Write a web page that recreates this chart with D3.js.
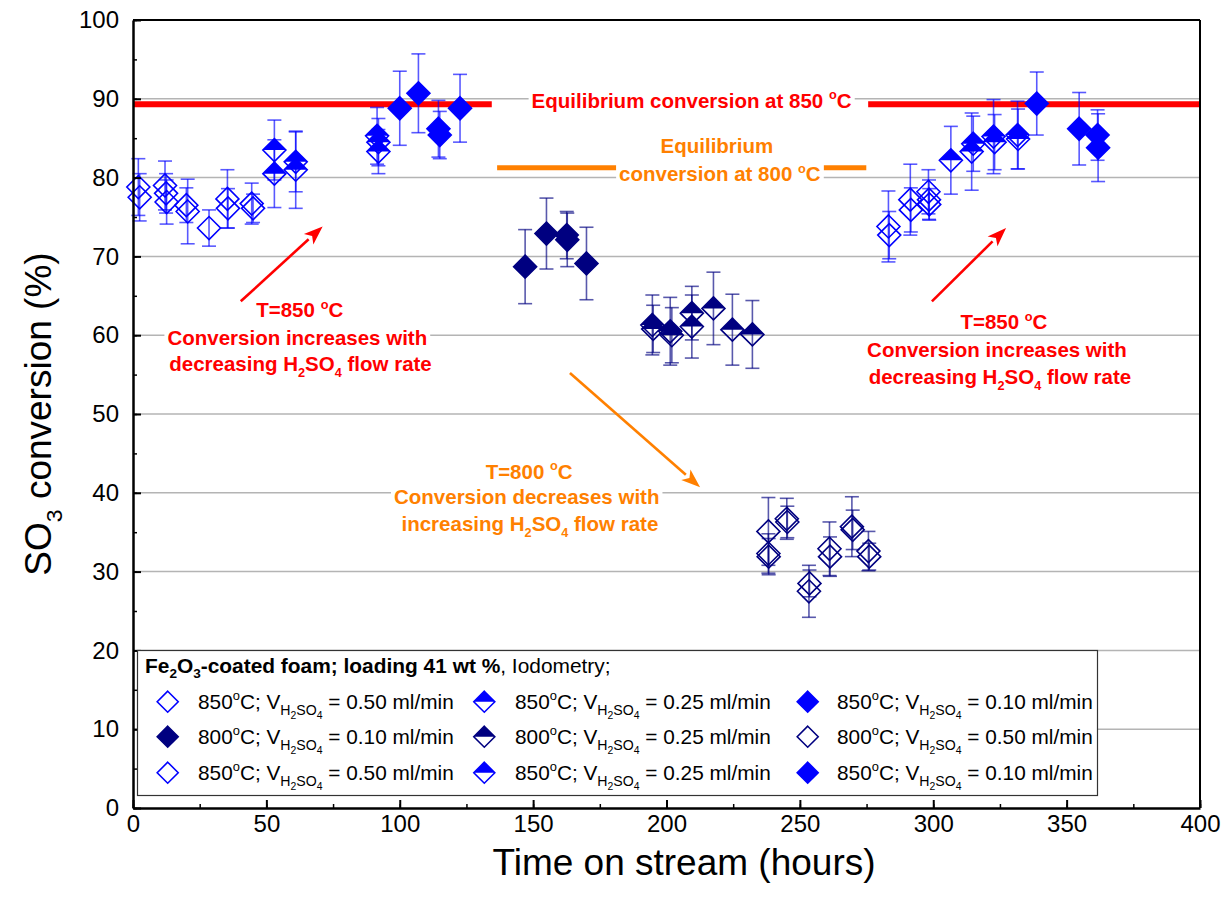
<!DOCTYPE html>
<html>
<head>
<meta charset="utf-8">
<script src="https://cdn.jsdelivr.net/npm/d3@7"></script>
<style>
  body { margin: 0; background: #fff; }
  svg { display: block; font-family: "Liberation Sans", Arial, sans-serif; }
</style>
</head>
<body>
<svg id="chart" width="1230" height="912"></svg>
<script>
// each point: [time on stream (h), SO3 conversion (%), error (%)]
const s850_050_a = [
  [2, 78.8, 3.6], [2.5, 77.5, 3.0], [12, 79.0, 3.1], [12.4, 78.0, 2.5], [12.6, 76.9, 2.8],
  [20, 76.5, 2.2], [20.5, 75.7, 4.1], [28.5, 73.6, 2.3], [35.4, 77.3, 3.7], [35.6, 76.1, 2.5],
  [44.5, 76.7, 2.6], [45, 76.1, 1.8]
];
const s850_025_a = [
  [53, 83.5, 3.8], [53, 80.5, 4.3], [61, 82.0, 3.8], [61, 81.0, 4.9],
  [91.5, 85.3, 3.6], [92, 84.5, 3.0], [92, 83.3, 2.8]
];
const s850_010_a = [
  [100, 88.8, 4.7], [107, 90.7, 5.0], [114.5, 86.2, 3.6], [115, 85.4, 3.0], [122.6, 88.8, 4.3]
];
const s800_010 = [
  [147, 68.7, 4.7], [155, 72.9, 4.5], [162.6, 72.7, 3.0], [162.8, 72.1, 3.4], [170, 69.1, 4.6]
];
const s800_025 = [
  [194.7, 61.3, 3.8], [195, 60.8, 3.0], [201.4, 60.5, 4.3], [202, 60.0, 3.5], [209.5, 62.8, 3.4],
  [209.5, 61.1, 4.0], [217.6, 63.4, 4.6], [224.7, 60.7, 4.5], [232.2, 60.1, 4.3]
];
const s800_050 = [
  [238.2, 35.1, 4.3], [238.2, 32.3, 2.5], [238.3, 31.9, 2.3], [245.1, 36.7, 2.6], [245.3, 36.3, 2.0],
  [253.6, 28.5, 1.7], [253.4, 27.5, 3.3], [261.1, 32.9, 3.4], [261.3, 31.9, 2.5], [269.5, 35.7, 3.8],
  [269.8, 35.3, 2.5], [275.7, 32.6, 2.5], [276, 31.9, 1.7]
];
const s850_050_b = [
  [283.2, 73.8, 4.5], [283.5, 72.7, 3.0], [291.4, 77.2, 4.5], [291.6, 75.9, 2.8],
  [298.2, 78.2, 2.8], [298.4, 77.2, 2.5], [298.5, 76.6, 2.0]
];
const s850_025_b = [
  [306.6, 82.2, 4.3], [314.4, 83.3, 4.9], [315, 84.3, 3.5], [322.6, 85.2, 4.7], [323, 84.5, 3.5],
  [331.6, 85.4, 4.3], [331.8, 84.9, 3.8]
];
const s850_010_b = [
  [338.8, 89.4, 4.0], [354.7, 86.2, 4.6], [361.6, 85.4, 3.2], [361.8, 83.8, 4.3]
];

// equilibrium conversion segments: [t start, t end, value]
const eq850 = [[0, 134.5, 89.3], [275.6, 400, 89.3]];
const eq800 = [[136.5, 181.3, 81.25], [258.8, 274.9, 81.25]];

// arrows in data units: [t0, y0, t1, y1]
const arrowsRed = [[40.4, 64.3, 71.1, 73.8], [299.5, 64.3, 327.3, 73.6]];
const arrowsOrange = [[163.8, 55.2, 212.6, 40.7]];

const xTicks = [0, 50, 100, 150, 200, 250, 300, 350, 400];
const yTicks = [0, 10, 20, 30, 40, 50, 60, 70, 80, 90, 100];

const BLUE = "#0000ff", NAVY = "#000080", RED = "#ff0000", ORANGE = "#ff8000";

const series = [
  { data: s850_050_a, color: BLUE, fill: "open" },
  { data: s850_025_a, color: BLUE, fill: "half" },
  { data: s850_010_a, color: BLUE, fill: "full" },
  { data: s800_010, color: NAVY, fill: "full" },
  { data: s800_025, color: NAVY, fill: "half" },
  { data: s800_050, color: NAVY, fill: "open" },
  { data: s850_050_b, color: BLUE, fill: "open" },
  { data: s850_025_b, color: BLUE, fill: "half" },
  { data: s850_010_b, color: BLUE, fill: "full" }
];
const legendTemp = ["850", "850", "850", "800", "800", "800", "850", "850", "850"];
const legendFlow = ["0.50", "0.25", "0.10", "0.10", "0.25", "0.50", "0.50", "0.25", "0.10"];

const svg = d3.select("#chart");
const width = 1230, height = 912;
const margin = { top: 20, right: 30, bottom: 104, left: 133 };

const x = d3.scaleLinear().domain([0, 400]).range([margin.left, width - margin.right]);
const y = d3.scaleLinear().domain([0, 100]).range([height - margin.bottom, margin.top]);

// text with sub/superscripts; level 0 normal, 1 sub, 2 sub-sub, -1 super
function rich(sel, parts, size, subScale = 0.62) {
  const off = { "0": 0, "1": 0.3, "2": 0.5, "-1": -0.42 };
  const sz = { "0": 1, "1": subScale, "2": 0.5, "-1": 0.62 };
  let cur = 0;
  parts.forEach(([s, lv]) => {
    sel.append("tspan")
      .attr("dy", (off[lv] - off[cur]) * size)
      .attr("font-size", size * sz[lv])
      .text(s);
    cur = lv;
  });
  return sel;
}

function diamond(cx, cy, r) {
  return `M${cx},${cy - r}L${cx + r},${cy}L${cx},${cy + r}L${cx - r},${cy}Z`;
}
function topHalf(cx, cy, r) {
  return `M${cx},${cy - r}L${cx + r},${cy}L${cx - r},${cy}Z`;
}

function drawMarker(g, cx, cy, fill, color, r) {
  if (fill === "half") {
    g.append("path").attr("d", topHalf(cx, cy, r)).attr("fill", color);
  }
  g.append("path")
    .attr("d", diamond(cx, cy, r))
    .attr("fill", fill === "full" ? color : "none")
    .attr("stroke", color)
    .attr("stroke-width", 1.6);
}

// gridlines
svg.append("g")
  .selectAll("line")
  .data(yTicks.filter(v => v > 0 && v < 100))
  .enter().append("line")
  .attr("x1", x(0)).attr("x2", x(400))
  .attr("y1", d => y(d)).attr("y2", d => y(d))
  .attr("stroke", "#b4b4b4").attr("stroke-width", 1.5);

// equilibrium lines
svg.append("g").selectAll("line").data(eq850).enter().append("line")
  .attr("x1", d => x(d[0])).attr("x2", d => x(d[1]))
  .attr("y1", d => y(d[2])).attr("y2", d => y(d[2]))
  .attr("stroke", RED).attr("stroke-width", 6);
svg.append("g").selectAll("line").data(eq800).enter().append("line")
  .attr("x1", d => x(d[0])).attr("x2", d => x(d[1]))
  .attr("y1", d => y(d[2])).attr("y2", d => y(d[2]))
  .attr("stroke", ORANGE).attr("stroke-width", 5);

// annotation labels (white background)
const annFont = 20.5;
function label(t, v, parts, color) {
  const g = svg.append("g");
  const txt = g.append("text")
    .attr("x", x(t)).attr("y", y(v) + annFont * 0.36)
    .attr("text-anchor", "middle")
    .attr("font-weight", "bold")
    .attr("font-size", annFont)
    .attr("fill", color);
  rich(txt, parts, annFont);
  const bb = txt.node().getBBox();
  g.insert("rect", "text")
    .attr("x", bb.x - 3).attr("y", bb.y + 1)
    .attr("width", bb.width + 6).attr("height", bb.height - 2)
    .attr("fill", "#fff");
}

label(209.4, 89.76, [["Equilibrium conversion at 850 ", 0], ["o", -1], ["C", 0]], RED);
label(218.9, 84.05, [["Equilibrium", 0]], ORANGE);
label(220.0, 80.46, [["conversion at 800 ", 0], ["o", -1], ["C", 0]], ORANGE);

label(62.5, 63.2, [["T=850 ", 0], ["o", -1], ["C", 0]], RED);
label(61.6, 59.7, [["Conversion increases with", 0]], RED);
label(62.8, 56.4, [["decreasing H", 0], ["2", 1], ["SO", 0], ["4", 1], [" flow rate", 0]], RED);

label(326.5, 61.7, [["T=850 ", 0], ["o", -1], ["C", 0]], RED);
label(323.9, 58.2, [["Conversion increases with", 0]], RED);
label(325.0, 54.8, [["decreasing H", 0], ["2", 1], ["SO", 0], ["4", 1], [" flow rate", 0]], RED);

label(148.5, 42.7, [["T=800 ", 0], ["o", -1], ["C", 0]], ORANGE);
label(147.6, 39.5, [["Conversion decreases with", 0]], ORANGE);
label(148.8, 36.1, [["increasing H", 0], ["2", 1], ["SO", 0], ["4", 1], [" flow rate", 0]], ORANGE);

// arrows
function arrow(d, color) {
  const x0 = x(d[0]), y0 = y(d[1]), x1 = x(d[2]), y1 = y(d[3]);
  const ang = Math.atan2(y1 - y0, x1 - x0);
  const L = 19, W = 7;
  const bx = x1 - L * Math.cos(ang), by = y1 - L * Math.sin(ang);
  svg.append("line")
    .attr("x1", x0).attr("y1", y0).attr("x2", bx).attr("y2", by)
    .attr("stroke", color).attr("stroke-width", 2.6);
  const px = -Math.sin(ang) * W, py = Math.cos(ang) * W;
  svg.append("path")
    .attr("d", `M${x1},${y1}L${bx + px},${by + py}L${x1 - L * 0.75 * Math.cos(ang)},${y1 - L * 0.75 * Math.sin(ang)}L${bx - px},${by - py}Z`)
    .attr("fill", color);
}
arrowsRed.forEach(d => arrow(d, RED));
arrowsOrange.forEach(d => arrow(d, ORANGE));

// error bars and markers
const R = 11.5, CAP = 7;
series.forEach(s => {
  const g = svg.append("g");
  s.data.forEach(([t, v, e]) => {
    const cx = x(t);
    const eb = g.append("g").attr("stroke", s.color).attr("stroke-opacity", 0.65).attr("stroke-width", 1.6);
    eb.append("line").attr("x1", cx).attr("x2", cx).attr("y1", y(v + e)).attr("y2", y(v - e));
    eb.append("line").attr("x1", cx - CAP).attr("x2", cx + CAP).attr("y1", y(v + e)).attr("y2", y(v + e));
    eb.append("line").attr("x1", cx - CAP).attr("x2", cx + CAP).attr("y1", y(v - e)).attr("y2", y(v - e));
  });
  s.data.forEach(([t, v]) => drawMarker(g, x(t), y(v), s.fill, s.color, R));
});

// axes
const tickFont = 24;
const xMinor = d3.range(0, 401, 25);
const yMinor = d3.range(0, 101, 5);

svg.append("g")
  .attr("transform", `translate(0,${y(0)})`)
  .call(d3.axisBottom(x).tickValues(xMinor).tickSize(-4).tickFormat(""))
  .call(g => g.select(".domain").remove())
  .selectAll("line").attr("stroke", "#000").attr("stroke-width", 1.5);
svg.append("g")
  .attr("transform", `translate(${x(0)},0)`)
  .call(d3.axisLeft(y).tickValues(yMinor).tickSize(-4).tickFormat(""))
  .call(g => g.select(".domain").remove())
  .selectAll("line").attr("stroke", "#000").attr("stroke-width", 1.5);

const xAxis = svg.append("g")
  .attr("transform", `translate(0,${y(0)})`)
  .call(d3.axisBottom(x).tickValues(xTicks).tickSize(-8).tickPadding(7).tickSizeOuter(0));
xAxis.selectAll("line").attr("stroke", "#000").attr("stroke-width", 2);
xAxis.select(".domain").attr("stroke", "#000").attr("stroke-width", 2.5);
xAxis.selectAll("text").attr("font-size", tickFont).attr("fill", "#000")
  .attr("font-family", "Liberation Sans, Arial, sans-serif");

const yAxis = svg.append("g")
  .attr("transform", `translate(${x(0)},0)`)
  .call(d3.axisLeft(y).tickValues(yTicks).tickSize(-8).tickPadding(14).tickSizeOuter(0));
yAxis.selectAll("line").attr("stroke", "#000").attr("stroke-width", 2);
yAxis.select(".domain").attr("stroke", "#000").attr("stroke-width", 2.5);
yAxis.selectAll("text").attr("font-size", tickFont).attr("fill", "#000")
  .attr("font-family", "Liberation Sans, Arial, sans-serif");

// frame top / right
svg.append("line").attr("x1", x(0)).attr("x2", x(400)).attr("y1", y(100)).attr("y2", y(100))
  .attr("stroke", "#000").attr("stroke-width", 2);
svg.append("line").attr("x1", x(400)).attr("x2", x(400)).attr("y1", y(100)).attr("y2", y(0))
  .attr("stroke", "#000").attr("stroke-width", 2);

// axis titles
const titleFont = 37;
svg.append("text")
  .attr("x", 684).attr("y", 875)
  .attr("text-anchor", "middle")
  .attr("font-size", titleFont)
  .text("Time on stream (hours)");

const yl = svg.append("text")
  .attr("transform", `translate(51,${(y(0) + y(100)) / 2}) rotate(-90)`)
  .attr("text-anchor", "middle")
  .attr("font-size", titleFont);
rich(yl, [["SO", 0], ["3", 1], [" conversion (%)", 0]], titleFont);

// legend
const lg = svg.append("g");
lg.append("rect")
  .attr("x", 137.5).attr("y", 650.5).attr("width", 960).attr("height", 145)
  .attr("fill", "#fff").attr("stroke", "#333").attr("stroke-width", 1.2);

const legFont = 20.8;
const titleSize = 20.9;
const sub = 5;
const title = lg.append("text").attr("x", 145).attr("y", 673).attr("font-size", titleSize);
title.append("tspan").attr("font-weight", "bold").text("Fe");
title.append("tspan").attr("font-weight", "bold").attr("dy", sub).attr("font-size", titleSize * 0.65).text("2");
title.append("tspan").attr("font-weight", "bold").attr("dy", -sub).text("O");
title.append("tspan").attr("font-weight", "bold").attr("dy", sub).attr("font-size", titleSize * 0.65).text("3");
title.append("tspan").attr("font-weight", "bold").attr("dy", -sub).text("-coated foam; loading 41 wt %");
title.append("tspan").text(", Iodometry;");

const colMarker = [167.7, 484.3, 807.7];
const colText = [198, 515, 837];
const rowY = [701.7, 736.7, 772.7];
series.forEach((s, i) => {
  const col = i % 3, row = Math.floor(i / 3);
  drawMarker(lg, colMarker[col], rowY[row], s.fill, s.color, 10.5);
  const t = lg.append("text")
    .attr("x", colText[col]).attr("y", rowY[row] + 7)
    .attr("font-size", legFont);
  rich(t, [
    [legendTemp[i], 0], ["o", -1], ["C; V", 0], ["H", 1], ["2", 2], ["SO", 1], ["4", 2],
    [` = ${legendFlow[i]} ml/min`, 0]
  ], legFont, 0.68);
});
</script>
</body>
</html>
